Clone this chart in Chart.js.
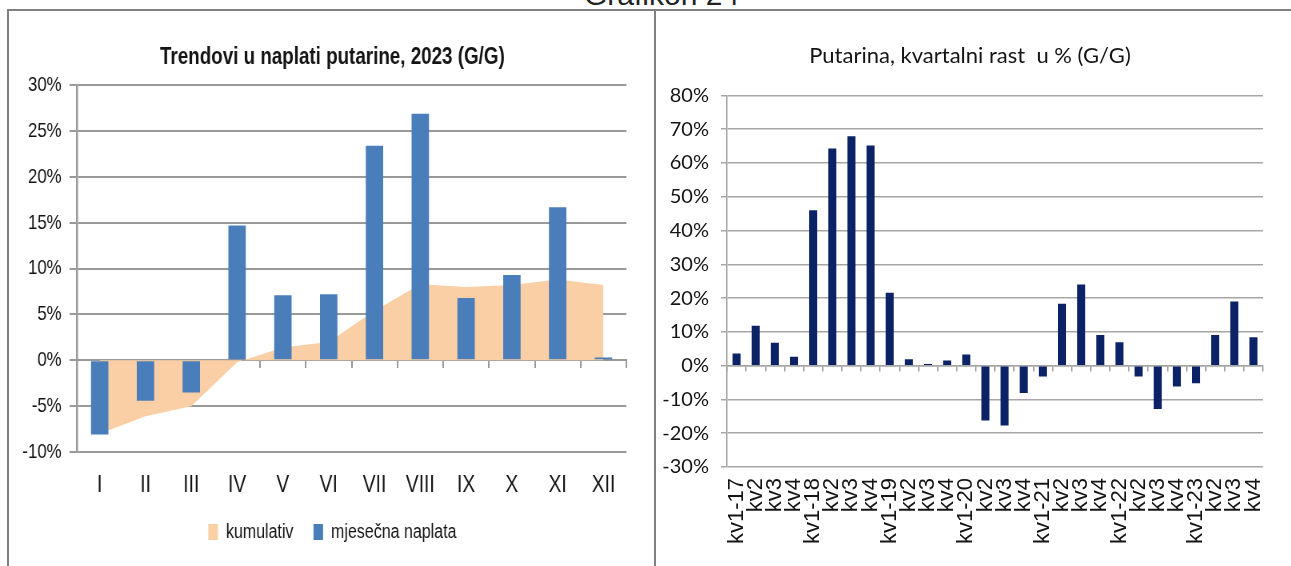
<!DOCTYPE html>
<html>
<head>
<meta charset="utf-8">
<title>Grafikon 24</title>
<style>
  html, body { margin: 0; padding: 0; background: #fff; overflow: hidden; }
  #naslov { position: absolute; left: 584px; top: -20px; font: 30px/30px "Liberation Sans", Arial, sans-serif; color: #222; white-space: nowrap; }
  .okvir { position: absolute; top: 9px; height: 600px; border: 2px solid #808080; box-sizing: border-box; }
  .platno { position: absolute; top: 10px; }
  /* original je horizontalno sabijen, pa i lijevi grafikon crtamo siri i sabijamo ga */
  #lijeviOkvir { left: 8px; transform: scaleX(0.8); transform-origin: 0 0; }
  #desniOkvir { left: 657px; }
</style>
<script src="https://cdn.jsdelivr.net/npm/chart.js@4.4.1/dist/chart.umd.min.js"></script>
</head>
<body>
<div id="naslov">Grafikon 24</div>
<div class="okvir" style="left:7px; width:649px;"></div>
<div class="okvir" style="left:654px; width:660px;"></div>
<div class="platno" id="lijeviOkvir"><canvas id="lijevi" width="805" height="580"></canvas></div>
<div class="platno" id="desniOkvir"><canvas id="desni" width="634" height="556"></canvas></div>

<script>
// lijevi grafikon - mjesecni podaci 2023
var mjeseci = ['I', 'II', 'III', 'IV', 'V', 'VI', 'VII', 'VIII', 'IX', 'X', 'XI', 'XII'];
var kumulativ = [-8.0, -6.1, -5.0, -0.2, 1.4, 2.0, 5.4, 8.3, 8.0, 8.2, 8.8, 8.2];
var mjesecnaNaplata = [-8.1, -4.4, -3.5, 14.7, 7.1, 7.2, 23.4, 26.9, 6.8, 9.3, 16.7, 0.3];
var lijeviYTicks = [-10, 30, 5]; // min, max, korak

// desni grafikon - kvartalni rast
var kvartali = ['kv1-17', 'kv2', 'kv3', 'kv4', 'kv1-18', 'kv2', 'kv3', 'kv4',
                'kv1-19', 'kv2', 'kv3', 'kv4', 'kv1-20', 'kv2', 'kv3', 'kv4',
                'kv1-21', 'kv2', 'kv3', 'kv4', 'kv1-22', 'kv2', 'kv3', 'kv4',
                'kv1-23', 'kv2', 'kv3', 'kv4'];
var kvartalniRast = [3.6, 11.8, 6.8, 2.6, 46.0, 64.3, 67.9, 65.2,
                     21.6, 1.9, 0.5, 1.5, 3.3, -16.2, -17.7, -8.1,
                     -3.2, 18.3, 24.0, 9.1, 6.9, -3.2, -12.8, -6.2,
                     -5.2, 9.1, 19.0, 8.4];
var desniYTicks = [-30, 80, 10];

var arial = "'Liberation Sans', Arial, sans-serif";
var lato = "Lato, 'Liberation Sans', sans-serif";
var siva = '#999999';
var tekst = '#141414';

function postotak(v) { return v + '%'; }

new Chart(document.getElementById('lijevi'), {
    type: 'bar',
    data: {
        labels: mjeseci,
        datasets: [{
            type: 'line',
            label: 'kumulativ',
            data: kumulativ,
            backgroundColor: '#fbcfa5',
            borderColor: '#fbcfa5',
            borderWidth: 0,
            pointRadius: 0,
            fill: 'origin',
            tension: 0,
            order: 2
        }, {
            label: 'mjesečna naplata',
            data: mjesecnaNaplata,
            backgroundColor: '#4a7ebb',
            barPercentage: 0.38,
            categoryPercentage: 1,
            order: 1
        }]
    },
    options: {
        responsive: false,
        animation: false,
        layout: { padding: { left: 14, right: 8, top: 0, bottom: 38 } },
        plugins: {
            title: {
                display: true,
                text: 'Trendovi u naplati putarine, 2023 (G/G)',
                color: tekst,
                font: { family: arial, size: 23.5, weight: 'bold', lineHeight: 1.2 },
                padding: { top: 33, bottom: 14 }
            },
            legend: {
                position: 'bottom',
                labels: {
                    color: tekst,
                    font: { family: arial, size: 20 },
                    boxWidth: 12,
                    boxHeight: 16,
                    padding: 25,
                    sort: function (a, b) { return a.datasetIndex - b.datasetIndex; }
                }
            },
            tooltip: { enabled: false }
        },
        scales: {
            x: {
                ticks: { color: tekst, font: { family: arial, size: 24 }, padding: 19 },
                grid: { display: false, drawTicks: false },
                border: { display: false },
                afterFit: function (s) { s.height = 45; }
            },
            x0: {
                type: 'category',
                position: { y: 0 },
                offset: true,
                ticks: { display: false },
                grid: { offset: true, drawOnChartArea: false, drawTicks: true, tickLength: 7, color: siva, lineWidth: 2 },
                border: { display: true, color: siva, width: 2 }
            },
            y: {
                min: lijeviYTicks[0],
                max: lijeviYTicks[1],
                ticks: { stepSize: lijeviYTicks[2], callback: postotak, color: tekst, font: { family: arial, size: 21 }, padding: 10 },
                grid: { color: siva, lineWidth: 2, tickLength: 9 },
                border: { color: siva, width: 2.5 },
                afterFit: function (s) { s.width = 72; }
            },
            // prazna desna osa samo pomjera naslov i legendu udesno
            yPrazna: {
                type: 'linear',
                position: 'right',
                ticks: { display: false },
                grid: { display: false, drawTicks: false },
                border: { display: false },
                afterFit: function (s) { s.width = 24; }
            }
        }
    }
});

new Chart(document.getElementById('desni'), {
    type: 'bar',
    data: {
        labels: kvartali,
        datasets: [{
            label: 'Putarina',
            data: kvartalniRast,
            backgroundColor: '#0b2366',
            barPercentage: 0.42,
            categoryPercentage: 1
        }]
    },
    options: {
        responsive: false,
        animation: false,
        layout: { padding: { left: 0, right: 8, top: 0, bottom: 0 } },
        plugins: {
            title: {
                display: true,
                text: 'Putarina, kvartalni rast  u % (G/G)',
                color: tekst,
                font: { family: lato, size: 22, weight: 'normal', lineHeight: 1.2 },
                padding: { top: 33, bottom: 26 }
            },
            legend: { display: false },
            tooltip: { enabled: false }
        },
        scales: {
            x: {
                ticks: { color: tekst, font: { family: arial, size: 22 }, minRotation: 90, maxRotation: 90, autoSkip: false, padding: 11 },
                grid: { display: false, drawTicks: false },
                border: { display: false },
                afterFit: function (s) { s.height = 99; }
            },
            x0: {
                type: 'category',
                position: { y: 0 },
                offset: true,
                ticks: { display: false },
                grid: { offset: true, drawOnChartArea: false, drawTicks: true, tickLength: 5, color: '#a6a6a6', lineWidth: 1.5 },
                border: { display: true, color: '#a6a6a6', width: 1.5 }
            },
            y: {
                min: desniYTicks[0],
                max: desniYTicks[1],
                ticks: { stepSize: desniYTicks[2], callback: postotak, color: tekst, font: { family: lato, size: 20 }, padding: 12 },
                grid: { color: '#a6a6a6', lineWidth: 1.5, tickLength: 6 },
                border: { color: '#a6a6a6', width: 1.5 },
                afterFit: function (s) { s.width = 70; }
            }
        }
    }
});
</script>
</body>
</html>
